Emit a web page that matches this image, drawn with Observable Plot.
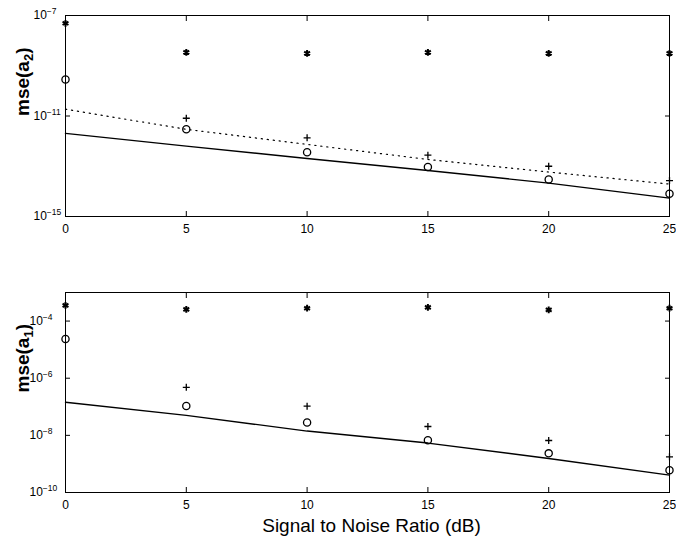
<!DOCTYPE html>
<html><head><meta charset="utf-8">
<script src="https://cdn.jsdelivr.net/npm/d3@7"></script>
<script src="https://cdn.jsdelivr.net/npm/@observablehq/plot@0.6"></script>
<style>
body{margin:0;background:#fff;}
#chart{width:676px;height:538px;background:#fff;}
#chart svg{display:block;}
</style></head><body><div id="chart"></div>
<script>
// x values (SNR, dB)
const snr = [0, 5, 10, 15, 20, 25];
const xTicks = [0, 5, 10, 15, 20, 25];
const plusSnr = [5, 10, 15, 20, 25];

// Top panel: mse(a2) — values given as log10
const a2Star   = [-7.31, -8.47, -8.51, -8.47, -8.51, -8.51];
const a2Circle = [-9.55, -11.53, -12.44, -13.03, -13.53, -14.09];
const a2Plus   = [-11.09, -11.87, -12.56, -13.0, -13.57];
const a2Dotted = [-10.73, -11.53, -12.13, -12.73, -13.23, -13.71];
const a2Solid  = [-11.69, -12.2, -12.69, -13.17, -13.67, -14.27];
const a2YTicks = [-15, -11, -7];
const a2Domain = [-15, -7];
const a2Label = "mse(a_2)";

// Bottom panel: mse(a1) — values given as log10
const a1Star   = [-3.45, -3.59, -3.55, -3.52, -3.61, -3.55];
const a1Circle = [-4.63, -6.97, -7.55, -8.17, -8.63, -9.22];
const a1Plus   = [-6.32, -6.98, -7.69, -8.18, -8.75];
const a1Solid  = [-6.84, -7.30, -7.85, -8.27, -8.81, -9.39];
const a1YTicks = [-10, -8, -6, -4];
const a1Domain = [-10, -3];
const a1Label = "mse(a_1)";

const xTitle = "Signal to Noise Ratio (dB)";

const pts = (xs, es) => xs.map((x, i) => ({x, y: Math.pow(10, es[i])}));

function panel({height, marginTop, marginBottom, domain, yTicks, label, star, circle, plus, solid, dotted, yLabelX, tickTextX, title}) {
  const marks = [
    Plot.frame({stroke: "black", strokeWidth: 1}),
    Plot.axisX(xTicks, {anchor: "bottom", tickSize: -5, tickPadding: 13, fontSize: 12, tickFormat: d => String(d), label: null}),
    Plot.axisX(xTicks, {anchor: "top", tickSize: -5, tickFormat: () => "", label: null}),
    Plot.axisY(yTicks.map(e => Math.pow(10, e)), {anchor: "left", tickSize: -5, tickPadding: tickTextX, textAnchor: "start", fontSize: 12, tickFormat: d => "10^" + Math.round(Math.log10(d)), label: null}),
    Plot.axisY(yTicks.map(e => Math.pow(10, e)), {anchor: "right", tickSize: -5, tickFormat: () => "", label: null}),
    Plot.line(pts(snr, solid), {x: "x", y: "y", stroke: "black", strokeWidth: 1.4}),
  ];
  if (dotted) marks.push(Plot.line(pts(snr, dotted), {x: "x", y: "y", stroke: "black", strokeWidth: 1.2, strokeDasharray: "1.2,4.8"}));
  marks.push(
    Plot.dot(pts(snr, star), {x: "x", y: "y", symbol: "asterisk", r: 3.2, stroke: "black", strokeWidth: 2}),
    Plot.dot(pts(snr, circle), {x: "x", y: "y", symbol: "circle", r: 3.6, stroke: "black", fill: "none", strokeWidth: 1.3}),
    Plot.dot(pts(plusSnr, plus), {x: "x", y: "y", symbol: "plus", r: 2.4, stroke: "black", strokeWidth: 1.3}),
    Plot.text([label], {text: d => d, frameAnchor: "left", rotate: -90, dx: -yLabelX, fontSize: 19, fontWeight: "bold"})
  );
  if (title) marks.push(Plot.text([title], {text: d => d, frameAnchor: "bottom", lineAnchor: "middle", dy: 33, dx: 4, fontSize: 19}));
  const svg = Plot.plot({
    width: 676, height,
    marginLeft: 65, marginRight: 7, marginTop, marginBottom,
    x: {domain: [0, 25]},
    y: {type: "log", domain: [Math.pow(10, domain[0]), Math.pow(10, domain[1])]},
    style: {fontFamily: "'Liberation Sans', Arial, Helvetica, sans-serif", color: "black", background: "white", overflow: "visible"},
    marks
  });
  const NS = "http://www.w3.org/2000/svg";
  svg.querySelectorAll('g[aria-label="y-axis tick label"] text').forEach(t => {
    const parts = t.textContent.split("^");
    if (parts.length === 2) {
      t.textContent = parts[0];
      const sp = document.createElementNS(NS, "tspan");
      sp.setAttribute("dy", "-5");
      sp.setAttribute("font-size", "8.5");
      sp.textContent = parts[1].replace("-", "\u2212");
      t.appendChild(sp);
    }
  });
  svg.querySelectorAll('text').forEach(t => {
    const s = t.textContent;
    if (s.startsWith("mse(a_")) {
      const sub = s.slice(6, 7);
      t.textContent = "mse(a";
      const sp = document.createElementNS(NS, "tspan");
      sp.setAttribute("dy", "4"); sp.setAttribute("font-size", "13");
      sp.textContent = sub;
      const sp2 = document.createElementNS(NS, "tspan");
      sp2.setAttribute("dy", "-4");
      sp2.textContent = ")";
      t.appendChild(sp); t.appendChild(sp2);
    }
  });
  return svg;
}

const root = document.getElementById("chart");
root.appendChild(panel({height: 250, marginTop: 15, marginBottom: 34, domain: a2Domain, yTicks: a2YTicks, label: a2Label,
  star: a2Star, circle: a2Circle, plus: a2Plus, solid: a2Solid, dotted: a2Dotted, yLabelX: 43, tickTextX: 37}));
root.appendChild(panel({height: 288, marginTop: 42, marginBottom: 46, domain: a1Domain, yTicks: a1YTicks, label: a1Label,
  star: a1Star, circle: a1Circle, plus: a1Plus, solid: a1Solid, dotted: null, yLabelX: 43, tickTextX: 41, title: xTitle}));
</script></body></html>
